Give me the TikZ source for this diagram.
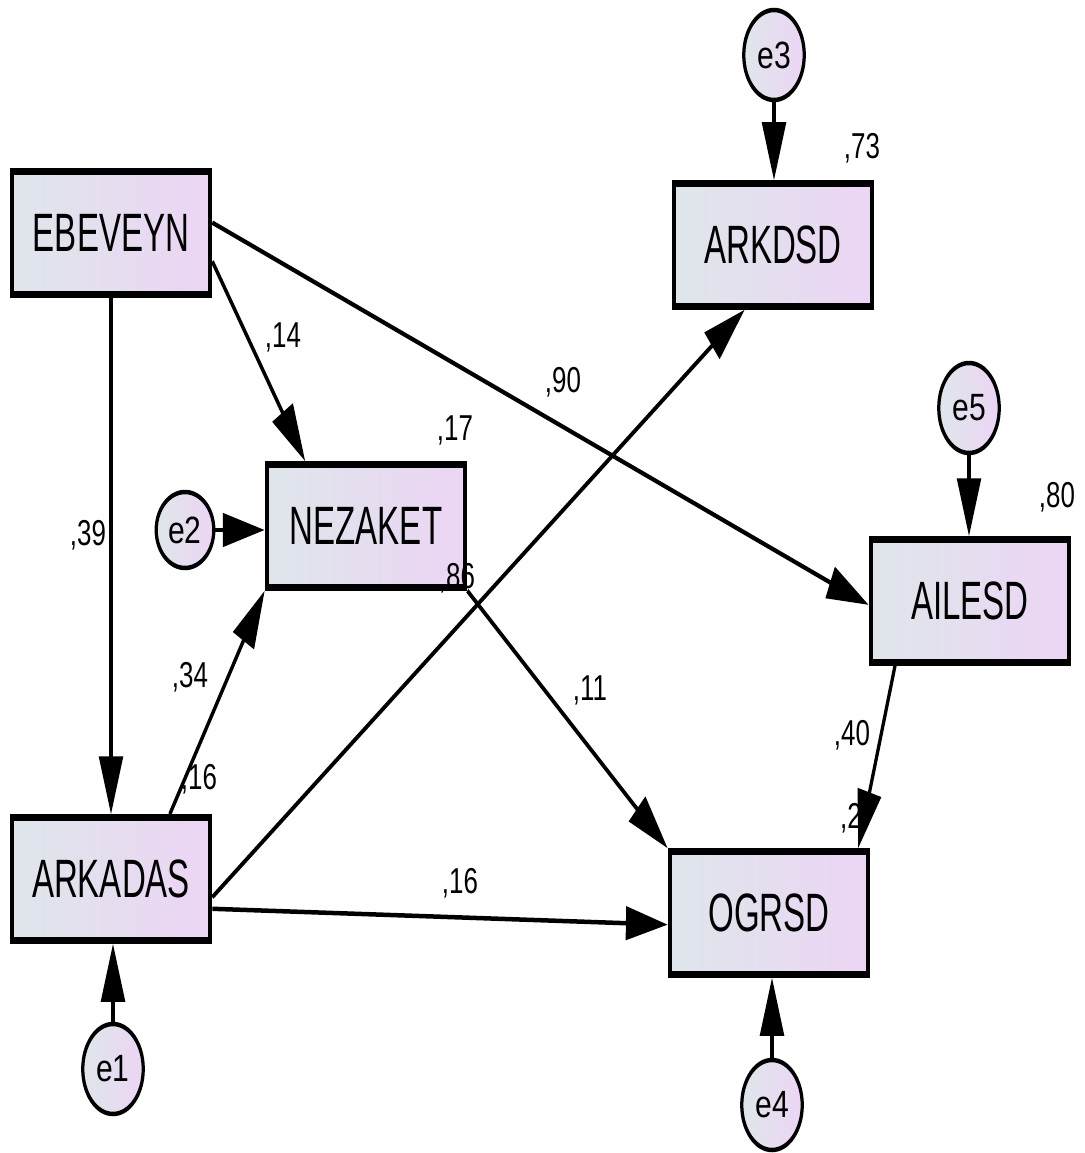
\documentclass[tikz,border=0pt]{standalone}
\usepackage{fontspec}
\setmainfont{Liberation Sans}
\usepackage{graphicx}
\usetikzlibrary{arrows.meta,shapes.geometric,calc}
\definecolor{gl}{HTML}{DFE6EB}
\definecolor{gr}{HTML}{ECD5F4}
\begin{document}
\begin{tikzpicture}
\useasboundingbox[fill=white] (0pt,0pt) rectangle (1084pt,-1153pt);
\begin{scope}[x=1.38889pt,y=-1pt,transform canvas={xscale=0.72},
  box/.style={draw,line width=6.5pt,left color=gl,right color=gr,minimum width=275pt,minimum height=123pt,inner sep=0pt,font=\fontsize{54}{64}\selectfont},
  err/.style={ellipse,draw,line width=4.5pt,left color=gl,right color=gr,minimum width=84pt,minimum height=90pt,inner sep=0pt,font=\fontsize{38}{44}\selectfont},
  arr/.style={line width=4.5pt,-{Triangle[length=58pt,width=33pt]}},
  lab/.style={font=\fontsize{36}{42}\selectfont,inner sep=0pt}]
% boxes
\node[box] (EB) at (111,233) {\scalebox{0.85}[1]{EBEVEYN}};
\node[box] (NZ) at (366,526) {\scalebox{0.85}[1]{NEZAKET}};
\node[box] (AR) at (111,879) {\scalebox{0.85}[1]{ARKADAS}};
\node[box] (AK) at (773,245) {\scalebox{0.85}[1]{ARKDSD}};
\node[box] (AI) at (970,601) {\scalebox{0.85}[1]{AILESD}};
\node[box] (OG) at (769,913) {\scalebox{0.85}[1]{OGRSD}};
% errors
\node[err] (e3) at (774,55) {\scalebox{1.1}[1]{e3}};
\node[err] (e5) at (969,408) {\scalebox{1.1}[1]{e5}};
\node[err,minimum width=80pt,minimum height=76pt] (e2) at (185,530) {\scalebox{1.1}[1]{e2}};
\node[err] (e1) at (113,1069) {\scalebox{1.1}[1]{e1}};
\node[err] (e4) at (772,1105) {\scalebox{1.1}[1]{e4}};
% paths
\draw[arr] (EB.south) -- (AR.north);
\draw[arr] ($(EB.north east)!0.72!(EB.south east)$) -- ($(NZ.north west)!0.2!(NZ.north east)$);
\draw[arr] ($(EB.north east)!0.42!(EB.south east)$) -- ($(AI.north west)!0.53!(AI.south west)$);
\draw[arr] (e2.east) -- (e2.east -| NZ.west);
\draw[arr] ($(AR.north west)!0.79!(AR.north east)$) -- (NZ.south west);
\draw[arr] ($(AR.north east)!0.64!(AR.south east)$) -- ($(AK.south west)!0.36!(AK.south east)$);
\draw[arr] ($(AR.north east)!0.73!(AR.south east)$) -- ($(OG.north west)!0.59!(OG.south west)$);
\draw[arr] (NZ.south east) -- (OG.north west);
\draw[arr] ($(AI.south west)!0.13!(AI.south east)$) -- ($(OG.north west)!0.94!(OG.north east)$);
\draw[arr] (e3.south) -- (e3.south |- AK.north);
\draw[arr] (e5.south) -- (e5.south |- AI.north);
\draw[arr] (e1.north) -- (e1.north |- AR.south);
\draw[arr] (e4.north) -- (e4.north |- OG.south);
% labels
\node[lab] (l39) at (88,535) {,39};
\node[lab] (l14) at (283,337) {,14};
\node[lab] (l90) at (563,382) {,90};
\node[lab] (l34) at (190,677) {,34};
\node[lab] (lr16) at (199,779) {,16};
\node[lab] (l16) at (460,883) {,16};
\node[lab] (l11) at (590,690) {,11};
\node[lab] (l40) at (852,735) {,40};
\node[lab] (l73) at (862,148) {,73};
\node[lab] (l17) at (455,430) {,17};
\node[lab] (l80) at (1057,497) {,80};
\node[lab] (l86) at (457,578) {,86};
\node[lab] (l2) at (851,818) {,2};
\end{scope}
\end{tikzpicture}
\end{document}
